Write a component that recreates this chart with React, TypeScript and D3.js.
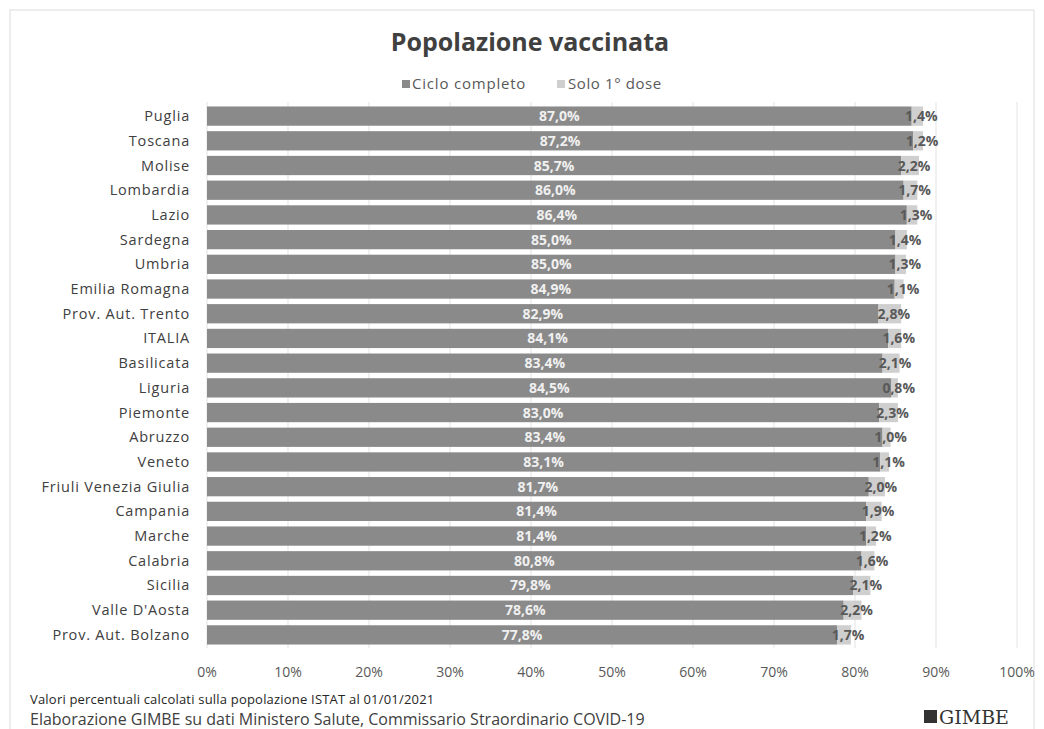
import React from "react";
import * as d3 from "d3";

const regions = [
  "Puglia", "Toscana", "Molise", "Lombardia", "Lazio", "Sardegna", "Umbria",
  "Emilia Romagna", "Prov. Aut. Trento", "ITALIA", "Basilicata", "Liguria",
  "Piemonte", "Abruzzo", "Veneto", "Friuli Venezia Giulia", "Campania",
  "Marche", "Calabria", "Sicilia", "Valle D'Aosta", "Prov. Aut. Bolzano",
];
const cicloCompleto = [
  87.0, 87.2, 85.7, 86.0, 86.4, 85.0, 85.0, 84.9, 82.9, 84.1, 83.4, 84.5,
  83.0, 83.4, 83.1, 81.7, 81.4, 81.4, 80.8, 79.8, 78.6, 77.8,
];
const primaDose = [
  1.4, 1.2, 2.2, 1.7, 1.3, 1.4, 1.3, 1.1, 2.8, 1.6, 2.1, 0.8,
  2.3, 1.0, 1.1, 2.0, 1.9, 1.2, 1.6, 2.1, 2.2, 1.7,
];
const ticks = [0, 10, 20, 30, 40, 50, 60, 70, 80, 90, 100];

const W = 1044;
const H = 729;
const font = "'Open Sans', sans-serif";
const fmt = (v: number) => v.toFixed(1).replace(".", ",") + "%";

export default function App() {
  const x = d3.scaleLinear().domain([0, 100]).range([207, 1017]);
  const y = d3.scaleBand().domain(regions).range([104, 647]).paddingInner(0.22).paddingOuter(0.1);
  const bh = y.bandwidth();

  return (
    <svg width={W} height={H} style={{ position: "absolute", left: 0, top: 0, background: "#fff" }}>
      <rect x={10} y={10} width={W - 20} height={H} fill="#fff" stroke="#dcdcdc" />
      <text x={530} y={51} textAnchor="middle" fontFamily={font} fontWeight="bold" fontSize={25} fill="#404040">
        Popolazione vaccinata
      </text>
      <rect x={402} y={80} width={8} height={8} fill="#8a8a8a" />
      <text x={412} y={89} fontFamily={font} fontSize={15} letterSpacing={0.8} fill="#595959">Ciclo completo</text>
      <rect x={557} y={80} width={8} height={8} fill="#cfcfcf" />
      <text x={568} y={89} fontFamily={font} fontSize={15} letterSpacing={0.6} fill="#595959">Solo 1° dose</text>

      {ticks.map((t) => (
        <g key={t}>
          <line x1={x(t)} x2={x(t)} y1={102} y2={648} stroke="#e3e3e3" />
          <text x={x(t)} y={677} textAnchor="middle" fontFamily={font} fontSize={14} fill="#595959">
            {t}%
          </text>
        </g>
      ))}

      {regions.map((r, i) => {
        const yy = y(r)!;
        const a = cicloCompleto[i];
        const b = primaDose[i];
        return (
          <g key={r}>
            <text x={190} y={yy + bh / 2 + 5} textAnchor="end" fontFamily={font} fontSize={14.5} letterSpacing={0.8} fill="#404040">
              {r}
            </text>
            <rect x={x(0)} y={yy} width={x(a) - x(0)} height={bh} fill="#8a8a8a" />
            <rect x={x(a)} y={yy} width={x(a + b) - x(a)} height={bh} fill="#cfcfcf" />
            <text x={(x(0) + x(a)) / 2} y={yy + bh / 2 + 5} textAnchor="middle" fontFamily={font} fontWeight="bold" fontSize={14} fill="#f0f0f0">
              {fmt(a)}
            </text>
            <text x={(x(a) + x(a + b)) / 2 + 4} y={yy + bh / 2 + 5} textAnchor="middle" fontFamily={font} fontWeight="bold" fontSize={14} fill="#595959">
              {fmt(b)}
            </text>
          </g>
        );
      })}

      <text x={30} y={704} fontFamily={font} fontSize={13} letterSpacing={0.2} fill="#262626">
        Valori percentuali calcolati sulla popolazione ISTAT al 01/01/2021
      </text>
      <text x={30} y={725} fontFamily={font} fontSize={16} fill="#404040">
        Elaborazione GIMBE su dati Ministero Salute, Commissario Straordinario COVID-19
      </text>
      <rect x={924} y={710} width={13} height={13} fill="#333" />
      <text x={939} y={724} fontFamily="'DejaVu Serif', serif" fontSize={19} fill="#333">GIMBE</text>
    </svg>
  );
}
